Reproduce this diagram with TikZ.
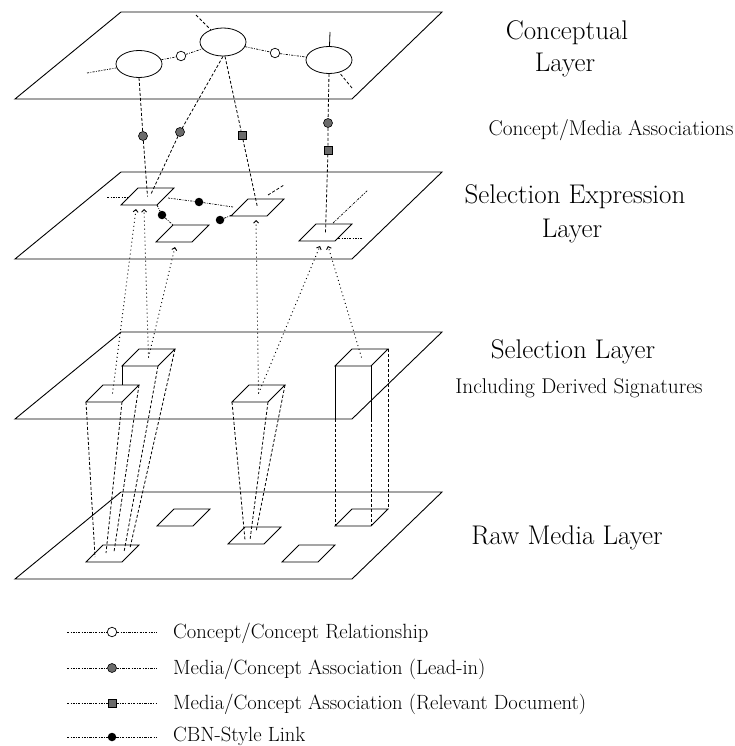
\documentclass[tikz,border=0pt]{standalone}
\usetikzlibrary{shapes.geometric,arrows.meta}
\definecolor{midgray}{gray}{0.42}
\begin{document}
\begin{tikzpicture}[x=1pt,y=-1pt,
  plane/.style={draw,line width=0.9pt},
  conc/.style={draw,ellipse,inner sep=0pt,line width=0.8pt,minimum width=46pt,minimum height=27pt},
  relc/.style={draw,circle,fill=white,inner sep=0pt,minimum size=9.5pt,line width=0.7pt},
  leadc/.style={draw,circle,fill=midgray,inner sep=0pt,minimum size=9pt,line width=0.6pt},
  relsq/.style={draw,rectangle,fill=midgray,inner sep=0pt,minimum size=8pt,line width=0.6pt},
  cbn/.style={circle,fill=black,inner sep=0pt,minimum size=8.5pt},
  rel/.style={line width=0.7pt,dash pattern=on 2.2pt off 1.3pt on 0.8pt off 1.3pt},
  dashc/.style={line width=0.8pt,dash pattern=on 3pt off 2pt},
  dotc/.style={line width=0.9pt,dash pattern=on 1pt off 3pt},
  uparrow/.style={dotc,-{Straight Barb[length=2.5pt,width=5pt]}},
  solidl/.style={line width=0.8pt},
  title/.style={font=\fontsize{27}{30}\selectfont,anchor=base,inner sep=0pt},
  subt/.style={font=\fontsize{21.3}{24}\selectfont,anchor=base,inner sep=0pt},
  legt/.style={font=\fontsize{20.6}{23}\selectfont,anchor=base west,inner sep=0pt},
  pgram/.pic={\draw[solidl] (0,0) -- (36,0) -- (53,-17) -- (17,-17) -- cycle;
    \coordinate (-c) at (26.5,-8.5); \coordinate (-fl) at (0,0);
    \coordinate (-fr) at (36,0); \coordinate (-br) at (53,-17); \coordinate (-bl) at (17,-17);}
]
\useasboundingbox (0,0) rectangle (735,746);

% ---------- layer planes ----------
\foreach \dy in {0,160,320,480}
  \draw[plane] (15,99+\dy) -- (352,99+\dy) -- (442,12+\dy) -- (121,12+\dy) -- cycle;

% ---------- conceptual layer ----------
\node[conc] (e1) at (139,64) {};
\node[conc,minimum height=28pt] (e2) at (223,42) {};
\node[conc] (e3) at (329,60) {};
\node[relc] (r1) at (181,56) {};
\node[relc] (r2) at (275,53) {};
\draw[rel] (e1) -- (r1) -- (e2) -- (r2) -- (e3);
\coordinate (e1w) at (87,73);
\coordinate (e2t) at (196,15);
\coordinate (e3t) at (330,32);
\coordinate (e3b) at (352,88);
\draw[rel] (e1w) -- (e1);
\draw[dashc] (e2t) -- (e2);
\draw[solidl] (e3t) -- (e3);
\draw[dashc] (e3b) -- (e3);

% ---------- selection expression layer ----------
\pic (P1) at (121,205) {pgram};
\pic (P2) at (231,216) {pgram};
\pic (P3) at (156,242) {pgram};
\pic (P4) at (299,241) {pgram};

% concept / media associations
\node[leadc] (a1) at (143,136) {};
\node[leadc] (a2) at (180,132) {};
\node[relsq] (s1) at (242,135) {};
\node[leadc] (a3) at (328,123) {};
\node[relsq] (s2) at (328,150) {};
\coordinate (p1in) at (151,194);
\draw[dashc] (e1.south) -- (a1) -- (P1-c);
\draw[dashc] (e2.south) -- (a2) -- (p1in);
\draw[dashc] (e2.south) ++(2,0) coordinate (e2s) -- (s1) -- (P2-c);
\draw[dashc] (e3.south) -- (a3) -- (s2) -- (P4-c);

% CBN-style links
\node[cbn] (c1) at (199,202) {};
\node[cbn] (c2) at (162,215) {};
\node[cbn] (c3) at (220,220) {};
\coordinate (p1e) at (168,198);
\coordinate (p2w) at (233,207);
\coordinate (p2w2) at (232,215);
\draw[rel] (p1e) -- (c1) -- (p2w);
\draw[rel] (P1-fr) -- (c2) -- (P3-bl);
\draw[rel] (c3) -- (p2w2);

% free links on selection expression layer
\coordinate (p1wa) at (107,197);
\coordinate (p1wb) at (129,197);
\draw[rel] (p1wa) -- (p1wb);
\coordinate (p2ta) at (268,195);
\coordinate (p2tb) at (284,185);
\draw[dashc] (p2ta) -- (p2tb);
\coordinate (p4ta) at (333,223);
\coordinate (p4tb) at (368,190);
\draw[rel] (p4ta) -- (p4tb);
\coordinate (p4ra) at (338,238);
\coordinate (p4rb) at (362,238);
\draw[rel] (p4ra) -- (p4rb);

% ---------- selection layer (signature boxes) ----------
\pic (A) at (86,402) {pgram};
\pic (B) at (122,366) {pgram};
\pic (C) at (232,402) {pgram};
\pic (D) at (335,366) {pgram};

% dotted selections up to expression layer
\coordinate (q1) at (136,209);
\coordinate (q2) at (144,209);
\coordinate (q3) at (175,247);
\coordinate (q4) at (256,220);
\coordinate (q5) at (320,246);
\coordinate (q6) at (328,246);
\draw[uparrow] (A-c) -- (q1);
\draw[uparrow] (B-c) -- (q2);
\draw[uparrow] (B-c) -- (q3);
\draw[uparrow] (C-c) -- (q4);
\draw[uparrow] (C-c) -- (q5);
\draw[uparrow] (D-c) -- (q6);

% ---------- raw media layer ----------
\pic (R1) at (86,562) {pgram};
\pic (R2) at (157,526) {pgram};
\pic (R3) at (228,544) {pgram};
\pic (R4) at (282,562) {pgram};
\pic (R5) at (335,526) {pgram};

% box edges projecting to raw media
\coordinate (Bh) at (122,385);
\draw[solidl] (B-fl) -- (Bh);
\coordinate (m1) at (95,557);
\coordinate (m2) at (106,553);
\coordinate (m3) at (114,552);
\coordinate (m4) at (124,552);
\coordinate (m5) at (130,548);
\draw[dashc] (A-fl) -- (m1);
\draw[dashc] (A-fr) -- (m2);
\draw[dashc] (A-br) -- (m3);
\draw[dashc] (B-fr) -- (m4);
\draw[dashc] (B-br) -- (m5);
\coordinate (n1) at (245,540);
\coordinate (n2) at (250,540);
\coordinate (n3) at (256,532);
\draw[dashc] (C-fl) -- (n1);
\draw[dashc] (C-fr) -- (n2);
\draw[dashc] (C-br) -- (n3);
\coordinate (Dl) at (335,419);
\coordinate (Dr) at (371,419);
\draw[solidl] (D-fl) -- (Dl);
\draw[solidl] (D-fr) -- (Dr);
\draw[dashc] (Dl) -- (R5-fl);
\draw[dashc] (Dr) -- (R5-fr);
\draw[dashc] (D-br) -- (R5-br);

% ---------- right-hand labels ----------
\node[title] (tc1) at (567,40) {Conceptual};
\node[title] (tc2) at (565,72) {Layer};
\node[subt] (tcm) at (611,136) {Concept/Media Associations};
\node[title] (ts1) at (575,203) {Selection Expression};
\node[title] (ts2) at (572,237) {Layer};
\node[title] (tsl) at (573,358) {Selection Layer};
\node[subt] (tsd) at (579,393) {Including Derived Signatures};
\node[title] (trm) at (567,544) {Raw Media Layer};

% ---------- legend ----------
\foreach \yy/\sty/\nm in {632/relc/L1,668/leadc/L2,703/relsq/L3,737/cbn/L4}{
  \node[\sty] (\nm) at (112,\yy) {};
  \coordinate (\nm a) at (67,\yy);
  \coordinate (\nm b) at (157,\yy);
  \draw[rel] (\nm a) -- (\nm) -- (\nm b);
}
\node[legt] (lt1) at (173,638) {Concept/Concept Relationship};
\node[legt] (lt2) at (173,674) {Media/Concept Association (Lead-in)};
\node[legt] (lt3) at (173,709) {Media/Concept Association (Relevant Document)};
\node[legt] (lt4) at (173,741) {CBN-Style Link};
\end{tikzpicture}
\end{document}
